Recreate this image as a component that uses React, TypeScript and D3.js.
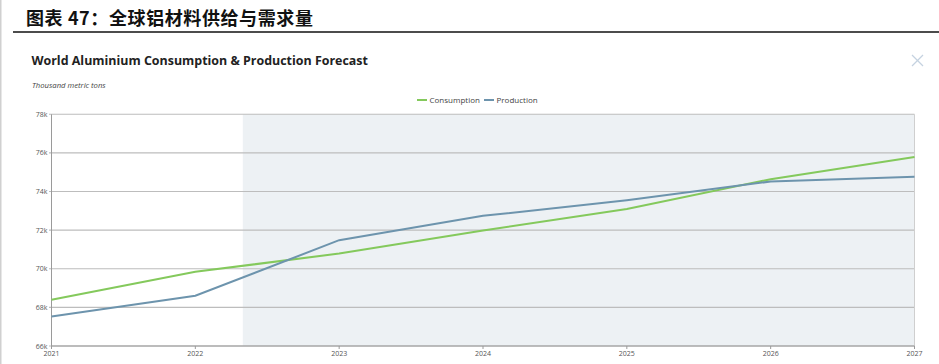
import React from "react";
import * as d3 from "d3";

const years = [2021, 2022, 2023, 2024, 2025, 2026, 2027];
const consumption = [68.39, 69.84, 70.79, 71.98, 73.1, 74.64, 75.79];
const production = [67.53, 68.6, 71.48, 72.74, 73.55, 74.52, 74.76];
const yTicks = [66, 68, 70, 72, 74, 76, 78];
const forecastStart = 2022.33;
const seriesNames = ["Consumption", "Production"];
const seriesColors = ["#84c95c", "#6d94ad"];

const W = 939;
const H = 364;
const left = 51.5;
const right = 914.5;
const top = 114.3;
const bottom = 346;

export default function App() {
  const x = d3.scaleLinear().domain([2021, 2027]).range([left, right]);
  const y = d3.scaleLinear().domain([66, 78]).range([bottom, top]);
  const line = d3
    .line<number>()
    .x((_, i) => x(years[i]))
    .y((d) => y(d));
  const series = [consumption, production];
  const font = "'Open Sans', 'Noto Sans', sans-serif";

  return (
    <svg
      width={W}
      height={H}
      style={{ position: "absolute", left: 0, top: 0, background: "#fff" }}
    >
      <line x1={0.75} y1={0} x2={0.75} y2={H} stroke="#d0d0d0" strokeWidth={1.5} />
      <text
        x={26}
        y={24.5}
        fontFamily="'Noto Sans CJK SC', sans-serif"
        fontWeight={700}
        fontSize={18}
        letterSpacing={0.6}
        fill="#111"
      >
        图表 47：全球铝材料供给与需求量
      </text>
      <line x1={13} y1={32} x2={W} y2={32} stroke="#111" strokeWidth={1.6} />

      <text x={31.5} y={64.5} fontFamily={font} fontWeight={700} fontSize={12.45} fill="#222">
        World Aluminium Consumption &amp; Production Forecast
      </text>
      <text x={32} y={88} fontFamily={font} fontStyle="italic" fontSize={7.7} fill="#444">
        Thousand metric tons
      </text>

      {/* close icon */}
      <g stroke="#c5d2e0" strokeWidth={1.2}>
        <line x1={912} y1={55} x2={923} y2={66} />
        <line x1={923} y1={55} x2={912} y2={66} />
      </g>

      {/* legend */}
      {seriesNames.map((n, i) => {
        const lx = i === 0 ? 417 : 484;
        return (
          <g key={n}>
            <line x1={lx} x2={lx + 10} y1={100} y2={100} stroke={seriesColors[i]} strokeWidth={2} />
            <text x={lx + 12.5} y={102.8} fontFamily={font} fontSize={8} fill="#444">
              {n}
            </text>
          </g>
        );
      })}

      {/* forecast shading */}
      <rect
        x={x(forecastStart)}
        y={top}
        width={x(2027) - x(forecastStart)}
        height={bottom - top}
        fill="#edf1f4"
      />

      {/* gridlines */}
      {yTicks.map((t) => (
        <g key={t}>
          <line x1={left - 2.5} x2={right} y1={y(t)} y2={y(t)} stroke="#bdbdbd" strokeWidth={1.1} />
          <text
            x={47.5}
            y={y(t) + 2.5}
            textAnchor="end"
            fontFamily={font}
            fontSize={7}
            fill="#555"
          >
            {t}k
          </text>
        </g>
      ))}
      <line x1={right} x2={right} y1={top} y2={bottom} stroke="#cfcfcf" strokeWidth={1} />
      <line x1={left} x2={left} y1={top} y2={bottom} stroke="#9a9a9a" strokeWidth={1} />
      <line x1={left} x2={right} y1={bottom} y2={bottom} stroke="#9a9a9a" strokeWidth={1} />

      {years.map((yr) => (
        <g key={yr}>
          <line x1={x(yr)} x2={x(yr)} y1={bottom} y2={bottom + 3} stroke="#9a9a9a" strokeWidth={1} />
          <text
            x={x(yr)}
            y={bottom + 10}
            textAnchor="middle"
            fontFamily={font}
            fontSize={7}
            fill="#555"
          >
            {yr}
          </text>
        </g>
      ))}

      {series.map((s, i) => (
        <path key={i} d={line(s) || ""} fill="none" stroke={seriesColors[i]} strokeWidth={2} />
      ))}
    </svg>
  );
}
